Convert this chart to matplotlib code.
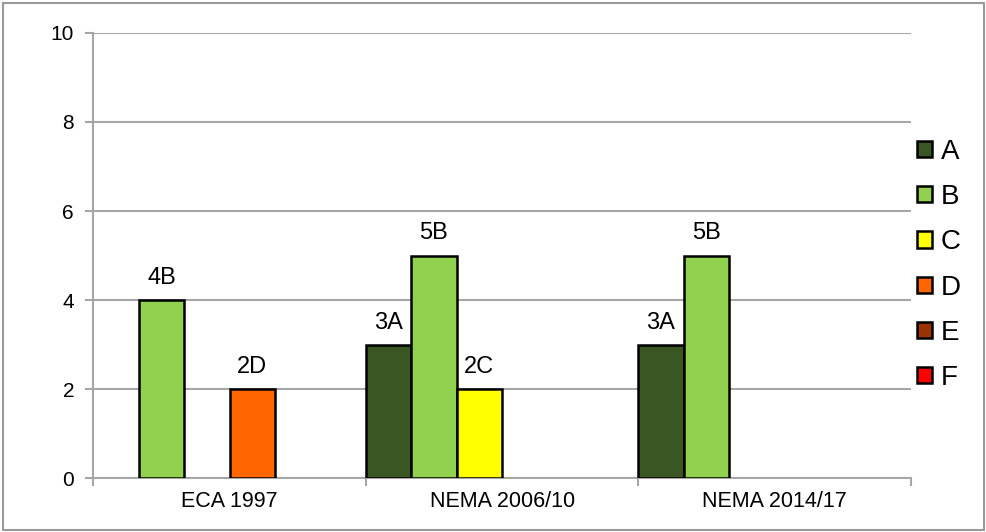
import matplotlib
matplotlib.use("Agg")
import matplotlib.pyplot as plt
import numpy as np
from matplotlib.patches import Rectangle, Patch

plt.rcParams['font.family'] = ['Liberation Sans', 'DejaVu Sans']

categories = ["ECA 1997", "NEMA 2006/10", "NEMA 2014/17"]
series_names = ["A", "B", "C", "D", "E", "F"]
series_values = {
    "A": [0, 3, 3],
    "B": [4, 5, 5],
    "C": [0, 2, 0],
    "D": [2, 0, 0],
    "E": [0, 0, 0],
    "F": [0, 0, 0],
}
series_colors = ["#3A5723", "#92D050", "#FFFF00", "#FF6600", "#993300", "#FF0000"]
y_ticks = [0, 2, 4, 6, 8, 10]

fig = plt.figure(figsize=(9.87, 5.32), dpi=100)
ax = fig.add_axes([0.0947, 0.1006, 0.9227 - 0.0947, 0.9385 - 0.1006])

grid_color = "#A6A6A6"
n = len(series_names)
width = 1.0 / n
x = np.arange(len(categories))

for i, (name, color) in enumerate(zip(series_names, series_colors)):
    vals = np.array(series_values[name], dtype=float)
    lws = [1.8 if v > 0 else 0 for v in vals]
    bars = ax.bar(x + (i - (n - 1) / 2) * width, vals, width=width,
                  color=color, edgecolor="black", linewidth=lws, zorder=3)
    for rect, v in zip(bars, vals):
        if v > 0:
            ax.annotate(f"{int(v)}{name}",
                        (rect.get_x() + rect.get_width() / 2, v),
                        xytext=(0, 8), textcoords="offset points",
                        ha="center", va="bottom", fontsize=17)

ax.set_xlim(-0.5, len(categories) - 0.5)
ax.set_ylim(0, 10)
ax.set_yticks(y_ticks)
ax.set_yticklabels([str(t) for t in y_ticks], fontsize=15)
ax.yaxis.grid(True, color=grid_color, linewidth=1.5, zorder=0)
ax.set_axisbelow(True)

# category boundaries as major ticks, names centred between them
ax.set_xticks(np.arange(len(categories) + 1) - 0.5)
ax.set_xticklabels([])
ax.set_xticks(x, minor=True)
ax.set_xticklabels(categories, minor=True, fontsize=15.5)
ax.tick_params(axis="x", which="minor", length=0, pad=9)
ax.tick_params(axis="x", which="major", length=6, color=grid_color, width=1.5)
ax.tick_params(axis="y", length=6, color=grid_color, width=1.5, pad=8)

for side in ["top", "right"]:
    ax.spines[side].set_visible(False)
for side in ["left", "bottom"]:
    ax.spines[side].set_color(grid_color)
    ax.spines[side].set_linewidth(1.5)

legend_handles = [Patch(facecolor=c, edgecolor="black", linewidth=1.8)
                  for c in series_colors]
leg = fig.legend(handles=legend_handles, labels=series_names,
                 loc="center left", bbox_to_anchor=(0.9295, 0.502),
                 frameon=False, fontsize=20, handlelength=0.52,
                 handleheight=0.52, handletextpad=0.33, labelspacing=0.69,
                 borderaxespad=0, borderpad=0)

fig.patches.append(Rectangle((0.0035, 0.004), 0.9935, 0.99, transform=fig.transFigure,
                             fill=False, edgecolor="#9A9A9A", linewidth=1.5))

fig.savefig("out.png", dpi=100)
